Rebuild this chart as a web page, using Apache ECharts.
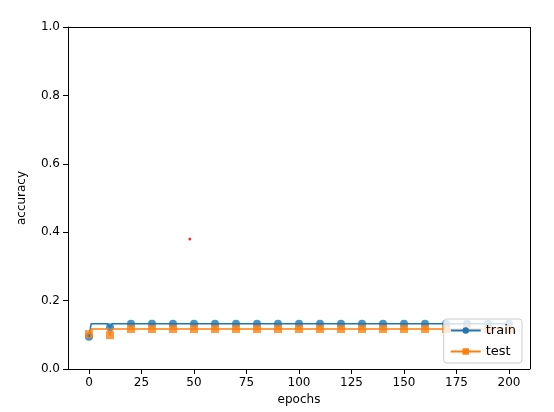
<!DOCTYPE html><html><head><meta charset="utf-8"><script src="https://cdn.jsdelivr.net/npm/echarts@6/dist/echarts.min.js"></script>
<style>body{margin:0}#c{width:554px;height:412px}</style></head><body><div id="c"></div><script>
const trainLine=[[0,0.094],[1,0.132],[9,0.132],[10,0.122],[11,0.132],[200,0.132]];
const testLine=[[0,0.102],[1,0.117],[9,0.117],[10,0.099],[11,0.117],[200,0.117]];
const markEpochs=[0,10,20,30,40,50,60,70,80,90,100,110,120,130,140,150,160,170,180,190,200];
const trainMarks=[0.094,0.122,0.132,0.132,0.132,0.132,0.132,0.132,0.132,0.132,0.132,0.132,0.132,0.132,0.132,0.132,0.132,0.132,0.132,0.132,0.132];
const testMarks=[0.102,0.099,0.117,0.117,0.117,0.117,0.117,0.117,0.117,0.117,0.117,0.117,0.117,0.117,0.117,0.117,0.117,0.117,0.117,0.117,0.117];
const redDot=[[48,0.38]];
const xTicks=[0,25,50,75,100,125,150,175,200];
const f='DejaVu Sans';
const ch=echarts.init(document.getElementById('c'));
const pts=(ys)=>markEpochs.map((e,i)=>[e,ys[i]]);
ch.setOption({animation:false,textStyle:{fontFamily:f},
grid:{left:68,right:24,top:27,bottom:43},
xAxis:{type:'value',min:-10,max:210,interval:25,name:'epochs',nameLocation:'middle',nameGap:24,nameTextStyle:{fontSize:12,color:'#000'},
 axisLine:{onZero:false,lineStyle:{color:'#000'}},
 axisLabel:{color:'#000',fontSize:12,customValues:xTicks},splitLine:{show:false},
 axisTick:{show:true,customValues:xTicks,lineStyle:{color:'#000'}}},
yAxis:{type:'value',min:0,max:1,interval:0.2,name:'accuracy',nameLocation:'middle',nameGap:40,nameTextStyle:{fontSize:12,color:'#000'},
 axisLine:{show:true,onZero:false,lineStyle:{color:'#000'}},axisTick:{show:true,lineStyle:{color:'#000'}},
 axisLabel:{color:'#000',fontSize:12,formatter:v=>v.toFixed(1)},splitLine:{show:false}},
legend:{right:32,bottom:49,orient:'vertical',itemWidth:30,itemHeight:8,itemGap:8,textStyle:{fontSize:13,color:'#000'},
 backgroundColor:'rgba(255,255,255,0.8)',borderColor:'#ccc',borderWidth:1,borderRadius:3,padding:[5,6],
 data:['train','test']},
series:[
{name:'train',type:'line',data:trainLine,symbol:'circle',symbolSize:8,showSymbol:false,color:'#1f77b4',lineStyle:{width:1.5}},
{type:'scatter',data:pts(trainMarks),symbol:'circle',symbolSize:8,color:'#1f77b4'},
{name:'test',type:'line',data:testLine,symbol:'rect',symbolSize:8,showSymbol:false,color:'#ff7f0e',lineStyle:{width:1.5}},
{type:'scatter',data:pts(testMarks),symbol:'rect',symbolSize:8,color:'#ff7f0e'},
{type:'scatter',data:redDot,symbolSize:3,color:'#d00'},
{type:'line',data:[],markLine:{silent:true,symbol:'none',label:{show:false},lineStyle:{color:'#000',type:'solid',width:1},data:[{yAxis:1},{xAxis:210}]}}
]});
</script></body></html>
